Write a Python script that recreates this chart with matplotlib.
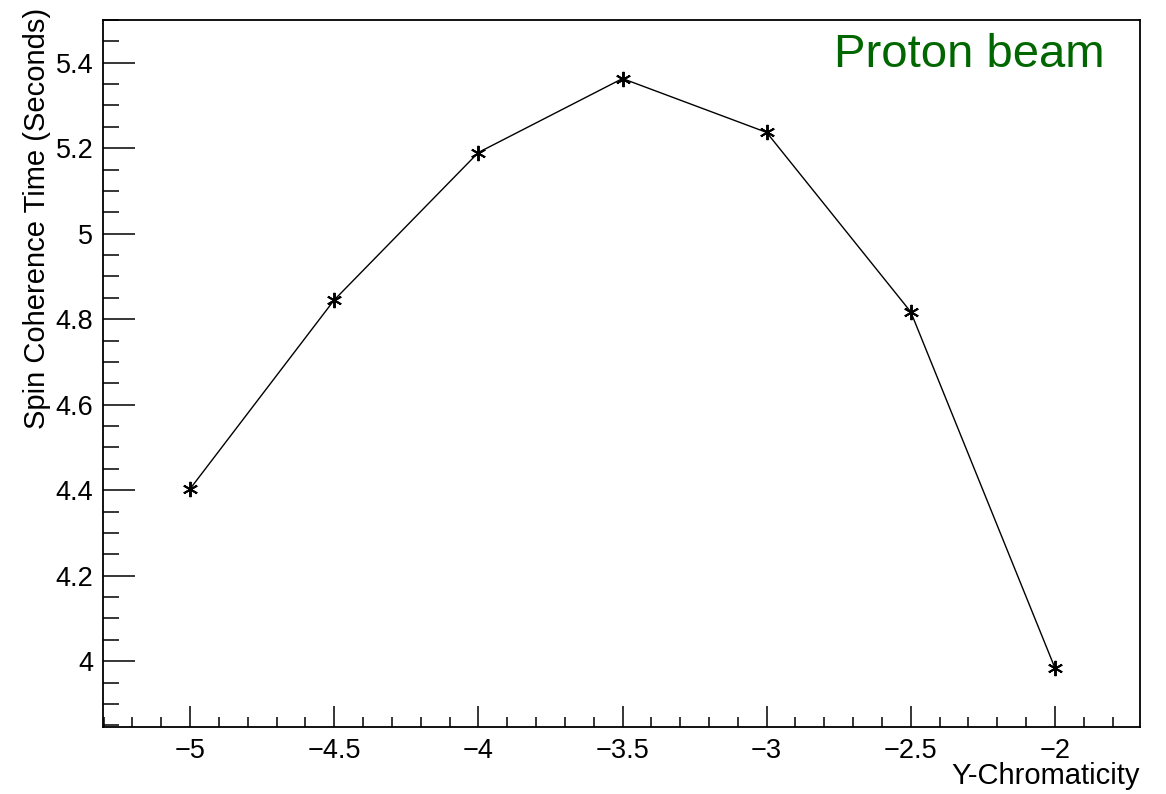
import matplotlib
matplotlib.use("Agg")
import matplotlib.pyplot as plt
from matplotlib.ticker import MultipleLocator

chromaticity = [-5.0, -4.5, -4.0, -3.5, -3.0, -2.5, -2.0]
coherence_time = [4.403, 4.845, 5.190, 5.363, 5.237, 4.817, 3.984]
x_ticks = [-5, -4.5, -4, -3.5, -3, -2.5, -2]
x_tick_labels = ["\u22125", "\u22124.5", "\u22124", "\u22123.5", "\u22123", "\u22122.5", "\u22122"]
y_ticks = [4.0, 4.2, 4.4, 4.6, 4.8, 5.0, 5.2, 5.4]
y_tick_labels = ["4", "4.2", "4.4", "4.6", "4.8", "5", "5.2", "5.4"]

plt.rcParams['font.family'] = ['Liberation Sans', 'DejaVu Sans']

fig = plt.figure(figsize=(11.66, 7.94), dpi=100)
ax = fig.add_axes([103/1166, 1 - 727/794, (1140-103)/1166, (727-20)/794])

ax.plot(chromaticity, coherence_time, color='black', lw=1.0,
        marker=(6, 2, 0), markersize=11, markeredgewidth=1.4, markeredgecolor='black')

ax.set_xlim(-5.302, -1.705)
ax.set_ylim(3.846, 5.5)
ax.set_xticks(x_ticks)
ax.set_xticklabels(x_tick_labels)
ax.set_yticks(y_ticks)
ax.set_yticklabels(y_tick_labels)
ax.xaxis.set_minor_locator(MultipleLocator(0.1))
ax.yaxis.set_minor_locator(MultipleLocator(0.05))

ax.tick_params(axis='both', which='both', direction='in', top=False, right=False,
               labelsize=19.5, width=1.1, color='black')
ax.tick_params(axis='x', which='major', length=15, pad=8)
ax.tick_params(axis='x', which='minor', length=7.2)
ax.tick_params(axis='y', which='major', length=23, pad=7)
ax.tick_params(axis='y', which='minor', length=11.5)
for s in ax.spines.values():
    s.set_linewidth(1.3)

fig.text(1140/1166, 1 - 776/794, "Y-Chromaticity", ha='right', va='center', fontsize=21)
fig.text(37/1166, 1 - 8/794, "Spin Coherence Time (Seconds)", ha='center', va='top',
         rotation=90, fontsize=21)
ax.text(0.966, 0.95, "Proton beam", transform=ax.transAxes, ha='right', va='center',
        fontsize=34, color='#006600')

fig.savefig("out.png", dpi=100)
